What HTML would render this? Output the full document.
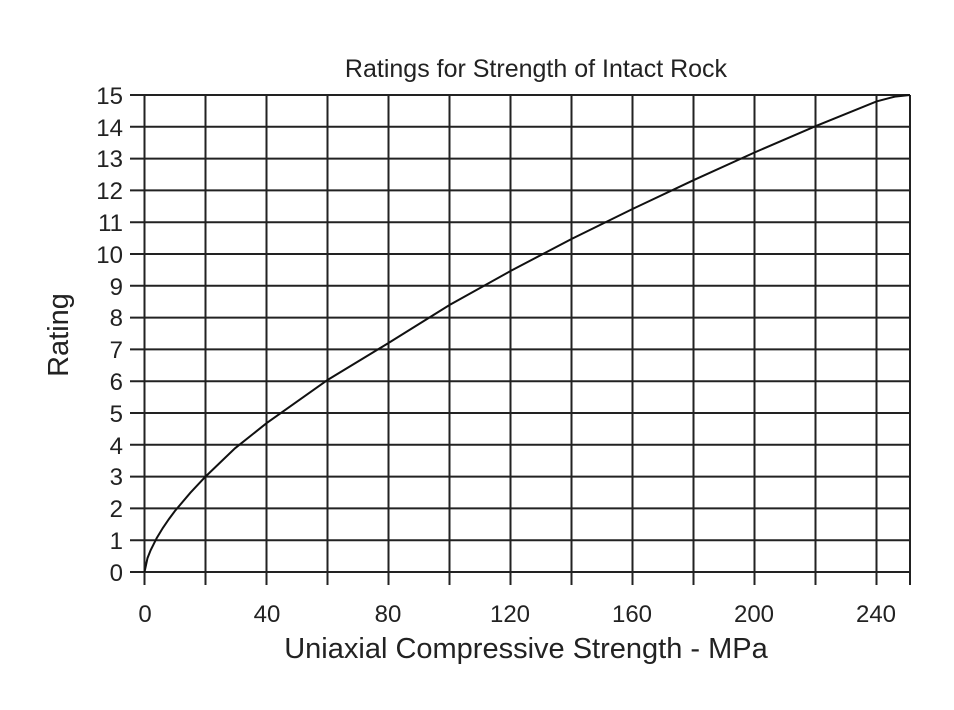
<!DOCTYPE html>
<html><head><meta charset="utf-8"><style>body{margin:0;background:#fff}</style></head><body>
<svg width="954" height="705" xmlns="http://www.w3.org/2000/svg" font-family="Liberation Sans, sans-serif" fill="#222">
<rect width="954" height="705" fill="#fff"/>
<g stroke="#222" stroke-width="2">
<line x1="130" y1="95" x2="910" y2="95"/><line x1="130" y1="126.8" x2="910" y2="126.8"/><line x1="130" y1="158.6" x2="910" y2="158.6"/><line x1="130" y1="190.4" x2="910" y2="190.4"/><line x1="130" y1="222.2" x2="910" y2="222.2"/><line x1="130" y1="254" x2="910" y2="254"/><line x1="130" y1="285.8" x2="910" y2="285.8"/><line x1="130" y1="317.6" x2="910" y2="317.6"/><line x1="130" y1="349.4" x2="910" y2="349.4"/><line x1="130" y1="381.2" x2="910" y2="381.2"/><line x1="130" y1="413" x2="910" y2="413"/><line x1="130" y1="444.8" x2="910" y2="444.8"/><line x1="130" y1="476.6" x2="910" y2="476.6"/><line x1="130" y1="508.4" x2="910" y2="508.4"/><line x1="130" y1="540.2" x2="910" y2="540.2"/><line x1="130" y1="572" x2="910" y2="572"/>
<line x1="144.5" y1="95" x2="144.5" y2="585"/><line x1="205.5" y1="95" x2="205.5" y2="585"/><line x1="266.5" y1="95" x2="266.5" y2="585"/><line x1="327.5" y1="95" x2="327.5" y2="585"/><line x1="388.5" y1="95" x2="388.5" y2="585"/><line x1="449.5" y1="95" x2="449.5" y2="585"/><line x1="510.5" y1="95" x2="510.5" y2="585"/><line x1="571.5" y1="95" x2="571.5" y2="585"/><line x1="632.5" y1="95" x2="632.5" y2="585"/><line x1="693.5" y1="95" x2="693.5" y2="585"/><line x1="754.5" y1="95" x2="754.5" y2="585"/><line x1="815.5" y1="95" x2="815.5" y2="585"/><line x1="876.5" y1="95" x2="876.5" y2="585"/><line x1="910" y1="95" x2="910" y2="585"/>
</g>
<polyline fill="none" stroke="#111" stroke-width="2" points="144.5,572 147.5,558.1 150.6,550.3 156.7,538.1 162.8,528 168.9,519.1 175,510.9 190.3,492.8 205.5,476.6 235,448.3 266.5,423.2 327.5,380 388.5,343 449.5,305 510.5,271 571.5,239 632.5,209 693.5,180.2 754.5,152.5 815.5,126.2 876.5,101.4 894.8,96.6 910,95"/>
<text x="536" y="77" font-size="25" text-anchor="middle">Ratings for Strength of Intact Rock</text>
<g font-size="24" text-anchor="end">
<text x="123" y="104">15</text><text x="123" y="136">14</text><text x="123" y="167">13</text><text x="123" y="199">12</text><text x="123" y="231">11</text><text x="123" y="263">10</text><text x="123" y="295">9</text><text x="123" y="326">8</text><text x="123" y="358">7</text><text x="123" y="390">6</text><text x="123" y="422">5</text><text x="123" y="454">4</text><text x="123" y="485">3</text><text x="123" y="517">2</text><text x="123" y="549">1</text><text x="123" y="581">0</text>
</g>
<g font-size="24" text-anchor="middle">
<text x="145" y="622">0</text><text x="267" y="622">40</text><text x="388" y="622">80</text><text x="510" y="622">120</text><text x="632" y="622">160</text><text x="754" y="622">200</text><text x="876" y="622">240</text>
</g>
<text x="526" y="658" font-size="29" text-anchor="middle">Uniaxial Compressive Strength - MPa</text>
<text transform="translate(68,335) rotate(-90)" font-size="29" text-anchor="middle">Rating</text>
</svg>
</body></html>
